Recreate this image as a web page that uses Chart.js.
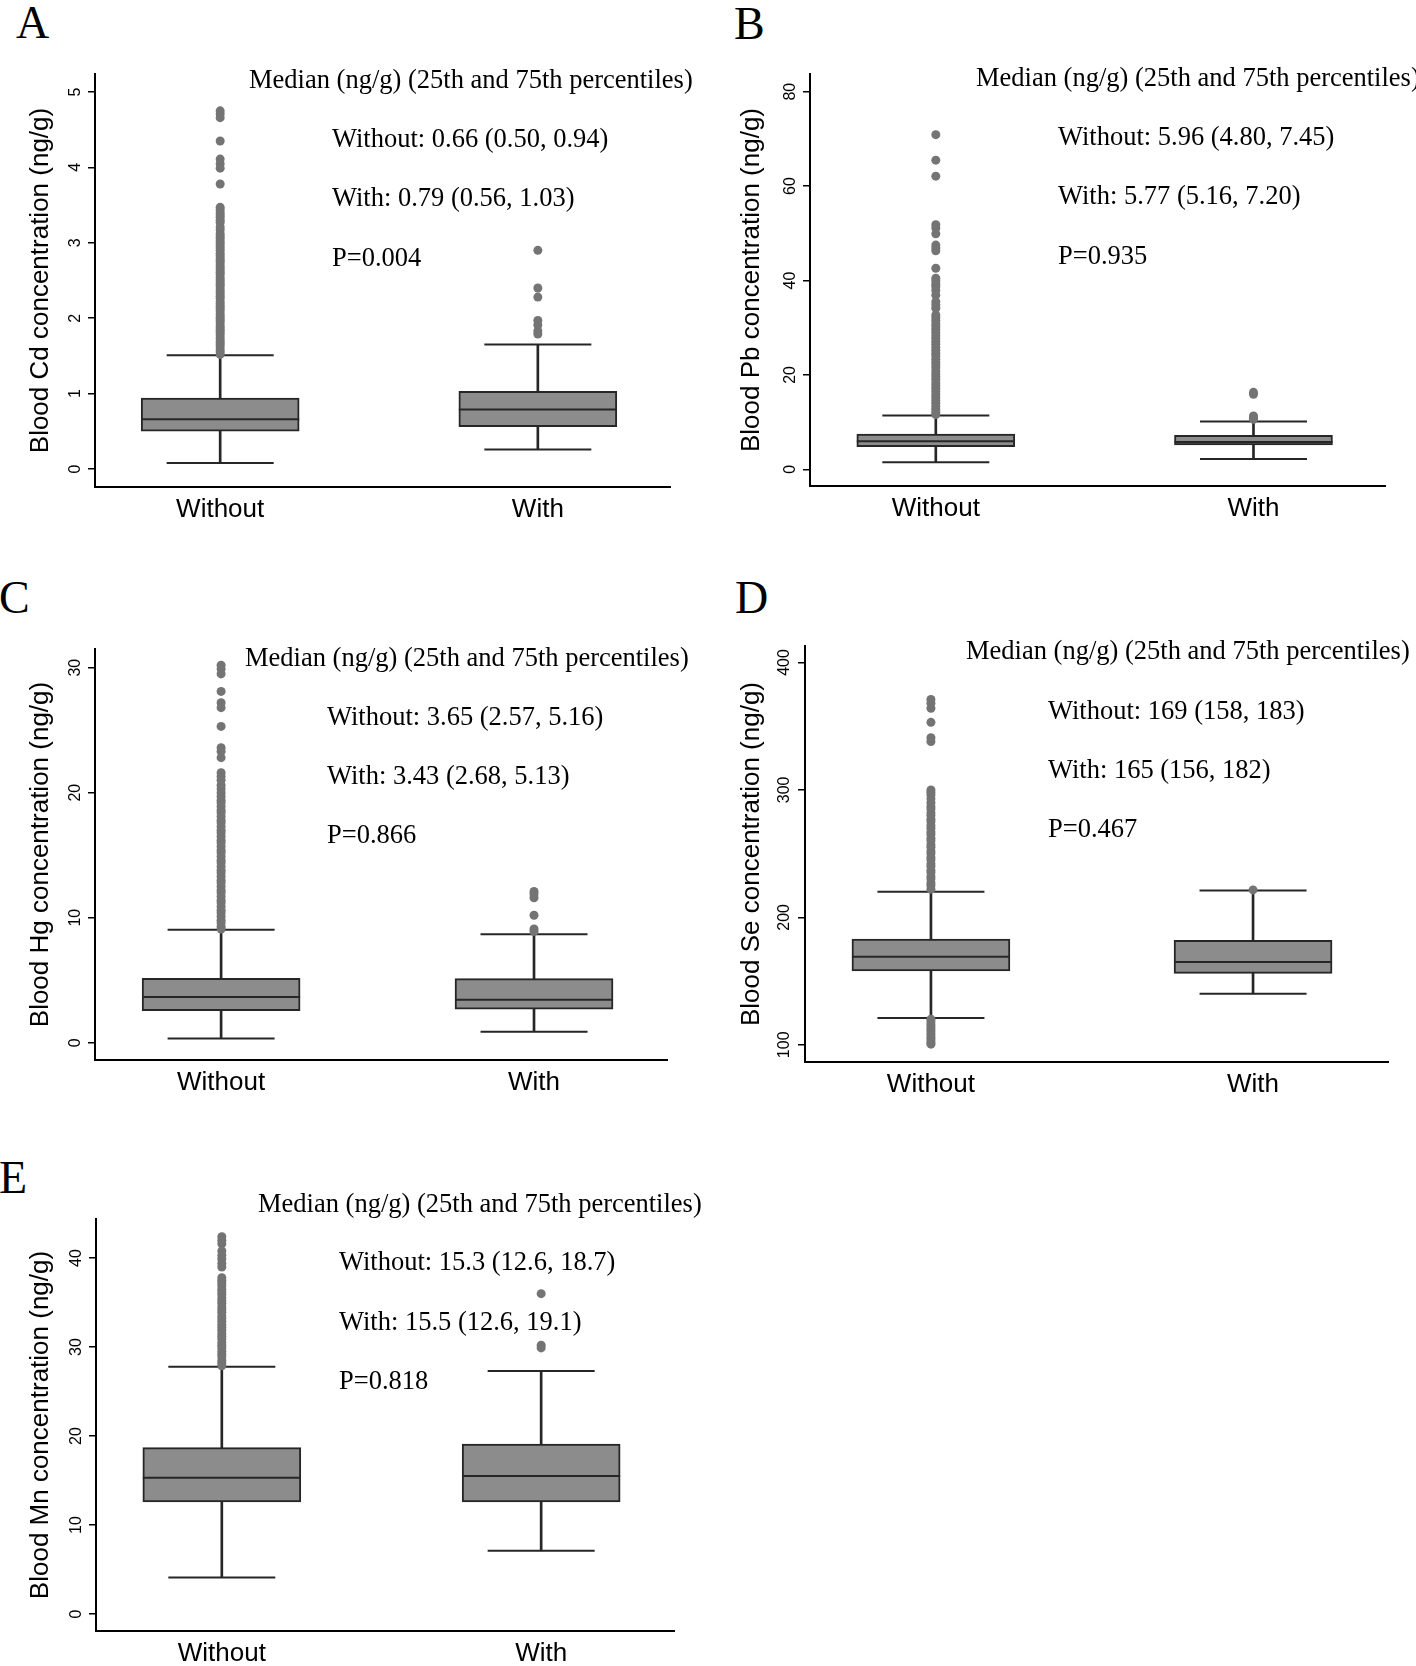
<!DOCTYPE html>
<html>
<head>
<meta charset="utf-8">
<script src="https://cdn.jsdelivr.net/npm/chart.js@4.4.0/dist/chart.umd.min.js"></script>
<style>
  body { margin: 0; background: #fff; width: 1416px; height: 1666px; position: relative; overflow: hidden; }
  canvas { position: absolute; }
  .letter { position: absolute; font-family: "Liberation Serif"; font-size: 46px; line-height: 1; color: #000; }
</style>
</head>
<body>
<div class="letter" style="left:16px;top:0px">A</div>
<div class="letter" style="left:734px;top:1px">B</div>
<div class="letter" style="left:-1px;top:575px">C</div>
<div class="letter" style="left:735px;top:575px">D</div>
<div class="letter" style="left:-1px;top:1155px">E</div>

<canvas id="cA" width="708" height="560" style="left:0;top:0"></canvas>
<canvas id="cB" width="708" height="560" style="left:708px;top:0"></canvas>
<canvas id="cC" width="708" height="540" style="left:0;top:560px"></canvas>
<canvas id="cD" width="708" height="540" style="left:708px;top:560px"></canvas>
<canvas id="cE" width="708" height="566" style="left:0;top:1100px"></canvas>

<script>
const groups = ["Without", "With"];
const groupX = [0, 1];
const headNote = "Median (ng/g) (25th and 75th percentiles)";

// A: cadmium
const cdTicks = [0, 1, 2, 3, 4, 5];
const cdLow = [0.08, 0.26];
const cdQ1 = [0.50, 0.56];
const cdMedian = [0.66, 0.79];
const cdQ3 = [0.94, 1.03];
const cdHigh = [1.51, 1.65];
const cdOutWithout = [4.75, 4.71, 4.66, 4.35, 4.11, 4.05, 3.99, 3.78, 3.47, 3.44, 3.40, 3.37, 3.34, 3.30, 3.27, 3.21, 3.17, 3.12,
  3.09, 3.06, 3.02, 2.99, 2.96, 2.93, 2.90, 2.86, 2.83, 2.80, 2.77, 2.74, 2.70, 2.67, 2.64, 2.61, 2.58, 2.54, 2.51, 2.48,
  2.45, 2.42, 2.38, 2.35, 2.32, 2.29, 2.26, 2.22, 2.19, 2.16, 2.13, 2.10, 2.06, 2.03, 2.00, 1.97, 1.94, 1.90, 1.87, 1.84,
  1.81, 1.78, 1.74, 1.71, 1.68, 1.65, 1.62, 1.58, 1.55, 1.52];
const cdOutWith = [2.90, 2.40, 2.28, 1.97, 1.91, 1.83, 1.79];
const cdNotes = [headNote, "Without: 0.66 (0.50, 0.94)", "With: 0.79 (0.56, 1.03)", "P=0.004"];

// B: lead
const pbTicks = [0, 20, 40, 60, 80];
const pbLow = [1.5, 2.2];
const pbQ1 = [4.80, 5.16];
const pbMedian = [5.96, 5.77];
const pbQ3 = [7.45, 7.20];
const pbHigh = [11.4, 10.1];
const pbOutWithout = [70.9, 65.5, 62.1, 51.8, 51.1, 49.9, 47.5, 46.9, 46.3, 42.6, 40.5, 39.9, 39.2, 38.7, 37.9, 36.9, 35.5,
  34.8, 34.1, 32.7, 32.1, 31.5, 30.8, 30.2, 29.6, 29.0, 28.3, 27.7, 27.1, 26.5, 25.8, 25.2, 24.6, 24.0, 23.3, 22.7, 22.1,
  21.5, 20.8, 20.2, 19.6, 19.0, 18.3, 17.7, 17.1, 16.5, 15.8, 15.2, 14.6, 14.0, 13.3, 12.7, 12.1, 11.6];
const pbOutWith = [16.3, 15.9, 11.3, 11.0, 10.6];
const pbNotes = [headNote, "Without: 5.96 (4.80, 7.45)", "With: 5.77 (5.16, 7.20)", "P=0.935"];

// C: mercury
const hgTicks = [0, 10, 20, 30];
const hgLow = [0.33, 0.88];
const hgQ1 = [2.57, 2.68];
const hgMedian = [3.65, 3.43];
const hgQ3 = [5.16, 5.13];
const hgHigh = [9.03, 8.68];
const hgOutWithout = [30.2, 29.9, 29.5, 28.1, 27.2, 26.8, 25.3, 23.6, 23.3, 22.8, 21.6, 21.3, 21.0, 20.6, 20.3, 20.0,
  19.7, 19.4, 19.2, 18.9, 18.6, 18.4, 18.1, 17.8, 17.6, 17.3, 17.0, 16.8, 16.5, 16.2, 16.0, 15.7, 15.4, 15.2, 14.9,
  14.6, 14.4, 14.1, 13.8, 13.6, 13.3, 13.0, 12.8, 12.5, 12.2, 12.0, 11.7, 11.4, 11.2, 10.9, 10.6, 10.4, 10.1, 9.8,
  9.6, 9.3, 9.1];
const hgOutWith = [12.1, 11.9, 11.6, 10.2, 9.1, 8.9];
const hgNotes = [headNote, "Without: 3.65 (2.57, 5.16)", "With: 3.43 (2.68, 5.13)", "P=0.866"];

// D: selenium
const seTicks = [100, 200, 300, 400];
const seLow = [121, 140];
const seQ1 = [158, 156];
const seMedian = [169, 165];
const seQ3 = [183, 182];
const seHigh = [220, 221];
const seOutWithout = [371, 368, 364, 353, 341, 338, 300, 298, 296, 293, 290, 287, 285, 282, 280, 277, 275, 272, 270,
  267, 265, 262, 260, 257, 255, 252, 250, 247, 245, 242, 240, 237, 235, 232, 230, 227, 225, 222,
  120, 118, 116, 114, 112, 110, 108, 106, 104, 102, 100.5];
const seOutWith = [221.5];
const seNotes = [headNote, "Without: 169 (158, 183)", "With: 165 (156, 182)", "P=0.467"];

// E: manganese
const mnTicks = [0, 10, 20, 30, 40];
const mnLow = [4.1, 7.1];
const mnQ1 = [12.6, 12.6];
const mnMedian = [15.3, 15.5];
const mnQ3 = [18.7, 19.1];
const mnHigh = [27.8, 27.3];
const mnOutWithout = [42.4, 42.0, 41.6, 40.8, 40.3, 39.9, 39.4, 39.0, 37.8, 37.5, 37.2, 36.9, 36.5, 36.2, 35.9, 35.5,
  35.2, 34.9, 34.5, 34.2, 33.9, 33.5, 33.2, 32.9, 32.5, 32.2, 31.9, 31.5, 31.2, 30.9, 30.5, 30.2, 29.9, 29.5, 29.2,
  28.9, 28.5, 28.2, 27.9];
const mnOutWith = [36.0, 30.2, 29.9];
const mnNotes = [headNote, "Without: 15.3 (12.6, 18.7)", "With: 15.5 (12.6, 19.1)", "P=0.818"];

const ink = "#262626";
const boxFill = "#8c8c8c";
const dotFill = "#747474";
const boxW = 158, capW = 107;

const notesPlugin = {
  id: "notes",
  afterDraw(chart, args, opts) {
    const ctx = chart.ctx;
    ctx.save();
    ctx.font = '26.5px "Liberation Serif"';
    ctx.fillStyle = "#000";
    ctx.textBaseline = "middle";
    opts.lines.forEach((t, i) => ctx.fillText(t, opts.pos[i][0], opts.pos[i][1]));
    ctx.restore();
  }
};

function makePanel(id, d, p) {
  const [L, T, R, B] = p.plot;
  const cv = document.getElementById(id);
  const pts = (vals) => groupX.map((x, i) => ({ x: x, y: vals[i] }));
  const outliers = d.outWithout.map(y => ({ x: 0, y: y })).concat(d.outWith.map(y => ({ x: 1, y: y })));

  new Chart(cv, {
    type: "bar",
    data: {
      datasets: [
        { type: "scatter", data: outliers, pointRadius: 4.5, pointBackgroundColor: dotFill,
          pointBorderWidth: 0, order: 0 },
        { type: "scatter", data: pts(d.median), pointStyle: "line", pointRadius: boxW / 2,
          pointBorderColor: ink, pointBorderWidth: 2, order: 1 },
        { type: "scatter", data: pts(d.low).concat(pts(d.high)), pointStyle: "line", pointRadius: capW / 2,
          pointBorderColor: ink, pointBorderWidth: 2, order: 2 },
        { type: "bar", data: groupX.map((x, i) => ({ x: x, y: [d.q1[i], d.q3[i]] })),
          backgroundColor: boxFill, borderColor: ink, borderWidth: 2, borderSkipped: false,
          barThickness: boxW, grouped: false, order: 3 },
        { type: "bar", data: groupX.map((x, i) => ({ x: x, y: [d.low[i], d.high[i]] })),
          backgroundColor: ink, barThickness: 2, grouped: false, order: 4 }
      ]
    },
    options: {
      responsive: false,
      animation: false,
      events: [],
      layout: { autoPadding: false, padding: { left: 0, top: T, right: cv.width - R, bottom: 0 } },
      plugins: {
        legend: { display: false },
        tooltip: { enabled: false },
        notes: { lines: d.notes, pos: p.notes }
      },
      scales: {
        x: {
          type: "linear", min: p.xRange[0], max: p.xRange[1], offset: false,
          afterBuildTicks: s => { s.ticks = groupX.map(v => ({ value: v })); },
          afterFit: s => { s.height = cv.height - B; s.paddingLeft = 0; s.paddingRight = 0; },
          grid: { display: false, drawTicks: false },
          border: { display: true, color: "#000", width: 2 },
          ticks: { callback: v => groups[v], color: "#000", padding: 7, maxRotation: 0, autoSkip: false,
                   font: { family: "Liberation Sans", size: 26 } }
        },
        y: {
          min: d.yMin, max: d.yMax,
          afterBuildTicks: s => { s.ticks = d.ticks.map(v => ({ value: v })); },
          afterFit: s => { s.width = L; s.paddingTop = 0; s.paddingBottom = 0; },
          grid: { drawOnChartArea: false, drawTicks: true, tickLength: 7, color: "#000", lineWidth: 1.5 },
          border: { display: true, color: "#000", width: 2 },
          ticks: { minRotation: 90, maxRotation: 90, crossAlign: "center", padding: p.tickPad, color: "#000",
                   autoSkip: false, font: { family: "Liberation Sans", size: 16 } },
          title: { display: true, text: d.title, color: "#000", padding: { top: p.titlePad, bottom: 0 },
                   font: { family: "Liberation Sans", size: 26 } }
        }
      }
    },
    plugins: [notesPlugin]
  });
}

makePanel("cA",
  { title: "Blood Cd concentration (ng/g)", ticks: cdTicks, yMin: -0.239, yMax: 5.239, low: cdLow, q1: cdQ1,
    median: cdMedian, q3: cdQ3, high: cdHigh, outWithout: cdOutWithout, outWith: cdOutWith, notes: cdNotes },
  { plot: [95, 74, 670, 487], xRange: [-0.394, 1.416], tickPad: 8, titlePad: 25,
    notes: [[249, 81], [332, 140], [332, 199], [332, 259]] });

makePanel("cB",
  { title: "Blood Pb concentration (ng/g)", ticks: pbTicks, yMin: -3.54, yMax: 83.75, low: pbLow, q1: pbQ1,
    median: pbMedian, q3: pbQ3, high: pbHigh, outWithout: pbOutWithout, outWith: pbOutWith, notes: pbNotes },
  { plot: [102, 74, 677, 486], xRange: [-0.396, 1.414], tickPad: 4, titlePad: 28,
    notes: [[268, 79], [350, 138], [350, 197], [350, 257]] });

makePanel("cC",
  { title: "Blood Hg concentration (ng/g)", ticks: hgTicks, yMin: -1.38, yMax: 31.49, low: hgLow, q1: hgQ1,
    median: hgMedian, q3: hgQ3, high: hgHigh, outWithout: hgOutWithout, outWith: hgOutWith, notes: hgNotes },
  { plot: [95, 89, 667, 500], xRange: [-0.403, 1.425], tickPad: 4, titlePad: 25,
    notes: [[245, 99], [327, 158], [327, 217], [327, 276]] });

makePanel("cD",
  { title: "Blood Se concentration (ng/g)", ticks: seTicks, yMin: 86.5, yMax: 412.9, low: seLow, q1: seQ1,
    median: seMedian, q3: seQ3, high: seHigh, outWithout: seOutWithout, outWith: seOutWith, notes: seNotes },
  { plot: [97, 86, 680, 502], xRange: [-0.391, 1.419], tickPad: 0, titlePad: 28,
    notes: [[258, 92], [340, 152], [340, 211], [340, 270]] });

makePanel("cE",
  { title: "Blood Mn concentration (ng/g)", ticks: mnTicks, yMin: -1.91, yMax: 44.39, low: mnLow, q1: mnQ1,
    median: mnMedian, q3: mnQ3, high: mnHigh, outWithout: mnOutWithout, outWith: mnOutWith, notes: mnNotes },
  { plot: [96, 119, 674, 531], xRange: [-0.394, 1.416], tickPad: 4, titlePad: 25,
    notes: [[258, 105], [339, 163], [339, 223], [339, 282]] });
</script>
</body>
</html>
